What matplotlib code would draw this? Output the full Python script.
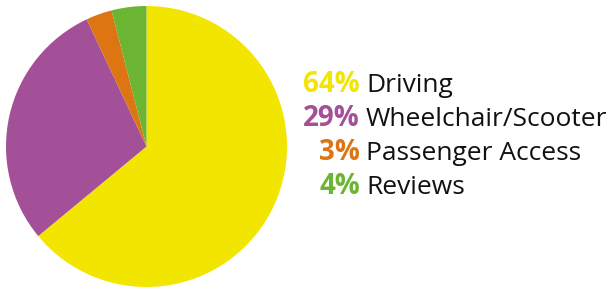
import matplotlib.pyplot as plt

# Data
labels = ['Driving', 'Wheelchair/Scooter', 'Passenger Access', 'Reviews']
shares = [64, 29, 3, 4]
colors = ['#F2E500', '#A35098', '#DC7512', '#6BB533']

W, H = 611, 289
fig = plt.figure(figsize=(W / 100, H / 100), dpi=100)

# Pie
ax = fig.add_axes([6 / W, 1 - 287 / H, 281 / W, 281 / H])
ax.pie(shares, colors=colors, startangle=90, counterclock=False,
       wedgeprops={'linewidth': 0})
ax.set_xlim(-1, 1)
ax.set_ylim(-1, 1)
ax.set_aspect('equal')
ax.axis('off')

# Legend as text
baselines = [92, 126, 160, 194]
for lab, val, col, yb in zip(labels, shares, colors, baselines):
    y = 1 - yb / H
    fig.text(360 / W, y, f'{val}%', color=col, fontsize=20, fontweight='bold',
             family='Open Sans', ha='right', va='baseline')
    fig.text(366 / W, y, lab, color='#111111', fontsize=19,
             family='Open Sans', ha='left', va='baseline')

fig.savefig('out.png', dpi=100)
